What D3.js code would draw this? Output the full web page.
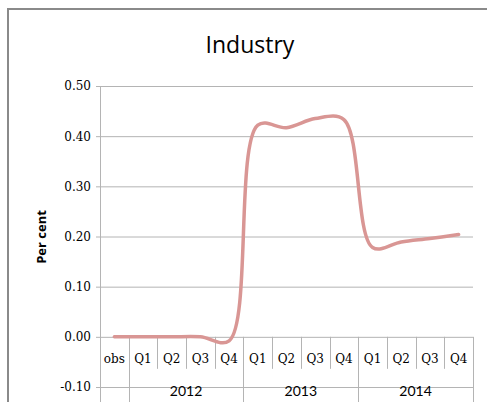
<!DOCTYPE html>
<html>
<head>
<meta charset="utf-8">
<script src="https://cdn.jsdelivr.net/npm/d3@7"></script>
<style>
  html, body { margin: 0; padding: 0; background: #fff; }
  svg { display: block; }
</style>
</head>
<body>
<svg id="chart" width="487" height="405"></svg>
<script>
// Quarterly categories, grouped by year (the first slot is the observation point)
const quarters = ["obs", "Q1", "Q2", "Q3", "Q4", "Q1", "Q2", "Q3", "Q4", "Q1", "Q2", "Q3", "Q4"];
const years = ["2012", "2013", "2014"];
const yearSpans = [[1, 4], [5, 8], [9, 12]];
// Industry effect, per cent
const industry = [0, 0, 0, 0, -0.008, 0.422, 0.417, 0.435, 0.433, 0.178, 0.189, 0.196, 0.204];
const yTicks = [-0.1, 0, 0.1, 0.2, 0.3, 0.4, 0.5];

const svg = d3.select("#chart");
const plot = { left: 100, right: 473, top: 86, bottom: 387, floor: 402 };
const gridColor = "#b4b4b4";
const serif = "'DejaVu Serif', serif";

const x = d3.scaleBand()
  .domain(d3.range(quarters.length))
  .range([plot.left, plot.right])
  .paddingInner(0).paddingOuter(0);
const y = d3.scaleLinear().domain([-0.1, 0.5]).range([plot.bottom, plot.top]);

// Plain hyphen for negatives, two decimals
const fmt = d => (d < 0 ? "-" : "") + Math.abs(d).toFixed(2);

// Chart frame (top and left edges)
svg.append("path")
  .attr("d", "M8,402 L8,9 L487,9")
  .attr("fill", "none").attr("stroke", "#8a8a8a").attr("stroke-width", 2);

// Title
svg.append("text")
  .attr("x", 250).attr("y", 53)
  .attr("text-anchor", "middle")
  .attr("font-family", "'Open Sans', sans-serif")
  .attr("font-size", 23)
  .attr("fill", "#000")
  .text("Industry");

// Value axis with horizontal gridlines
const yAxis = d3.axisLeft(y)
  .tickValues(yTicks)
  .tickFormat(fmt)
  .tickSize(-(plot.right - plot.left))
  .tickPadding(9);
const gy = svg.append("g").attr("transform", `translate(${plot.left},0)`).call(yAxis);
gy.select(".domain").remove();
gy.selectAll(".tick line")
  .attr("x1", -4)
  .attr("stroke", gridColor).attr("stroke-width", 1);
gy.selectAll(".tick text")
  .attr("font-family", serif)
  .attr("font-size", 12)
  .attr("fill", "#000");

// Vertical axis line, running down through the category rows
svg.append("line")
  .attr("x1", plot.left + 0.5).attr("x2", plot.left + 0.5)
  .attr("y1", plot.top).attr("y2", plot.floor)
  .attr("stroke", gridColor);

// Category separators: short ones between quarters, long ones between year groups
const zeroY = y(0);
const groupEdges = new Set([1, 5, 9, 13]);
d3.range(1, quarters.length + 1).forEach(i => {
  const xp = i < quarters.length ? x(i) : plot.right;
  svg.append("line")
    .attr("x1", Math.round(xp) + 0.5).attr("x2", Math.round(xp) + 0.5)
    .attr("y1", zeroY).attr("y2", groupEdges.has(i) ? plot.floor : zeroY + 32)
    .attr("stroke", gridColor);
});

// Quarter labels
svg.append("g").selectAll("text")
  .data(quarters)
  .join("text")
  .attr("x", (d, i) => x(i) + x.bandwidth() / 2)
  .attr("y", zeroY + 26)
  .attr("text-anchor", "middle")
  .attr("font-family", serif)
  .attr("font-size", 12)
  .attr("fill", "#000")
  .text(d => d);

// Year labels centred under their quarters
svg.append("g").selectAll("text")
  .data(years)
  .join("text")
  .attr("x", (d, i) => (x(yearSpans[i][0]) + x(yearSpans[i][1]) + x.bandwidth()) / 2)
  .attr("y", zeroY + 59)
  .attr("text-anchor", "middle")
  .attr("font-family", "Lato, sans-serif")
  .attr("font-size", 14)
  .attr("fill", "#000")
  .text(d => d);

// Axis title
svg.append("text")
  .attr("transform", "translate(46,237) rotate(-90)")
  .attr("text-anchor", "middle")
  .attr("font-family", "'Open Sans', sans-serif")
  .attr("font-weight", "bold")
  .attr("font-size", 13)
  .attr("fill", "#000")
  .text("Per cent");

// Smoothed series line
const line = d3.line()
  .x((d, i) => x(i) + x.bandwidth() / 2)
  .y(d => y(d))
  .curve(d3.curveCatmullRom.alpha(0.5));

svg.append("path")
  .datum(industry)
  .attr("d", line)
  .attr("fill", "none")
  .attr("stroke", "#d99694")
  .attr("stroke-width", 3.5)
  .attr("stroke-linecap", "round")
  .attr("stroke-linejoin", "round");
</script>
</body>
</html>
